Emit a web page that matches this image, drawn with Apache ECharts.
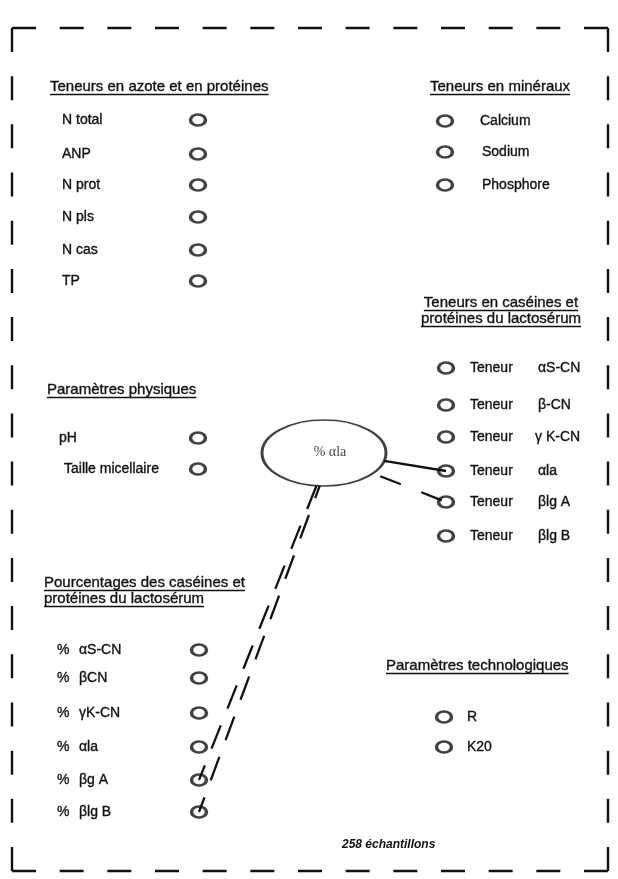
<!DOCTYPE html>
<html>
<head>
<meta charset="utf-8">
<script src="https://cdn.jsdelivr.net/npm/echarts@6/dist/echarts.min.js"></script>
<style>
  html, body { margin: 0; padding: 0; background: #fff; }
  #chart { width: 618px; height: 879px; }
</style>
</head>
<body>
<div id="chart"></div>
<script>
// --- blocs du schéma ---
const azoteLabels = ['N total', 'ANP', 'N prot', 'N pls', 'N cas', 'TP'];
const azoteRowY = [120, 154, 185, 217, 250, 281];

const mineralLabels = ['Calcium', 'Sodium', 'Phosphore'];
const mineralRowY = [121, 152, 185];

const teneurWord = 'Teneur';
const caseinLabels = ['αS-CN', 'β-CN', 'γ K-CN', 'αla', 'βlg A', 'βlg B'];
const caseinRowY = [368, 405, 437, 471, 502, 536];

const physLabels = ['pH', 'Taille micellaire'];
const physRowY = [438, 469];

const pctLabels = ['αS-CN', 'βCN', 'γK-CN', 'αla', 'βg A', 'βlg B'];
const pctRowY = [650, 678, 713, 747, 780, 812];

const technoLabels = ['R', 'K20'];
const technoRowY = [717, 747];

const titles = ['Teneurs en azote et en protéines', 'Teneurs en minéraux',
  'Teneurs en caséines et', 'protéines du lactosérum', 'Paramètres physiques',
  'Pourcentages des caséines et', 'protéines du lactosérum', 'Paramètres technologiques'];
const titleX = [50, 430, 501, 501, 47, 44, 44, 386];
const titleY = [87, 87, 303, 319, 390, 583, 599, 666];

const centerLabel = '% αla';
const centerPos = [324, 453];
const sampleNote = '258 échantillons';

const FONT = '"Liberation Sans", Arial, sans-serif';
const INK = '#111';

// texte : [x, y, texte, type]  type 0 = libellé, 1 = titre, 2 = titre centré, 3 = note
const texts = [];
const circles = [];

azoteLabels.forEach((t, i) => { texts.push([62, azoteRowY[i], t, 0]); circles.push([198, azoteRowY[i]]); });
mineralLabels.forEach((t, i) => { texts.push([i === 0 ? 480 : 482, mineralRowY[i], t, 0]); circles.push([445, mineralRowY[i]]); });
caseinLabels.forEach((t, i) => {
  texts.push([470, caseinRowY[i], teneurWord, 0]);
  texts.push([i === 2 ? 535 : 538, caseinRowY[i], t, 0]);
  circles.push([446, caseinRowY[i]]);
});
physLabels.forEach((t, i) => { texts.push([i === 0 ? 59 : 64, physRowY[i], t, 0]); circles.push([198, physRowY[i]]); });
pctLabels.forEach((t, i) => {
  texts.push([57, pctRowY[i], '%', 0]);
  texts.push([79, pctRowY[i], t, 0]);
  circles.push([199, pctRowY[i]]);
});
technoLabels.forEach((t, i) => { texts.push([467, technoRowY[i], t, 0]); circles.push([444, technoRowY[i]]); });
titles.forEach((t, i) => texts.push([titleX[i], titleY[i], t, (i === 2 || i === 3) ? 2 : 1]));
texts.push([342, 845, sampleNote, 3]);

// liens depuis l'ellipse (angle de départ sur le bord, en degrés, y vers le bas)
const ELL = [62, 33];
function edgeAt(deg) {
  const a = deg * Math.PI / 180;
  return [centerPos[0] + ELL[0] * Math.cos(a), centerPos[1] + ELL[1] * Math.sin(a)];
}
const linkTargets = [[446, caseinRowY[3]], [446, caseinRowY[4]], [199, pctRowY[4]], [199, pctRowY[5]]];
const linkStart = [14, 38, 97, 94];
const linkDash = ['solid', [22, 22], [25, 18], [25, 18]];
const linkOffset = [0, -8, 0, 12];
const links = linkTargets.map((tg, i) => ({
  coords: [edgeAt(linkStart[i]), tg],
  lineStyle: { type: linkDash[i], dashOffset: linkOffset[i] }
}));

const ctx = document.createElement('canvas').getContext('2d');
function textWidth(s, font) { ctx.font = font; return ctx.measureText(s).width; }

// cadre pointillé
function side(x1, y1, x2, y2) {
  const len = Math.hypot(x2 - x1, y2 - y1);
  const n = Math.round((len - 24) / 48);
  const gap = (len - 24 * (n + 1)) / n;
  return {
    type: 'line', silent: true,
    shape: { x1, y1, x2, y2 },
    style: { stroke: INK, lineWidth: 2.4, lineDash: [24, gap] }
  };
}
const B = { l: 12, r: 608, t: 28, b: 871 };

const chart = echarts.init(document.getElementById('chart'));
chart.setOption({
  animation: false,
  backgroundColor: '#fff',
  grid: { left: 0, right: 0, top: 0, bottom: 0 },
  xAxis: { type: 'value', min: 0, max: 618, show: false },
  yAxis: { type: 'value', min: 0, max: 879, inverse: true, show: false },
  graphic: [
    side(B.l, B.t, B.r, B.t),
    side(B.l, B.b, B.r, B.b),
    side(B.l, B.t, B.l, B.b),
    side(B.r, B.t, B.r, B.b)
  ],
  series: [
    {
      type: 'lines',
      coordinateSystem: 'cartesian2d',
      data: links,
      z: 3,
      lineStyle: { color: INK, width: 2.3, opacity: 1 }
    },
    {
      type: 'scatter',
      data: circles,
      symbol: 'circle',
      symbolSize: [15, 11],
      z: 4,
      itemStyle: { color: 'rgba(0,0,0,0)', borderColor: INK, borderWidth: 3 }
    },
    {
      type: 'scatter',
      data: [centerPos],
      symbol: 'circle',
      symbolSize: [ELL[0] * 2, ELL[1] * 2],
      z: 4,
      itemStyle: { color: 'rgba(0,0,0,0)', borderColor: INK, borderWidth: 2.2 },
      label: {
        show: true, position: 'inside', formatter: centerLabel,
        fontFamily: '"Liberation Serif", serif', fontSize: 14, color: INK, offset: [6, -1]
      }
    },
    {
      type: 'custom',
      data: texts.map(t => [t[0], t[1]]),
      z: 5,
      renderItem: function (params, api) {
        const t = texts[params.dataIndex];
        const p = api.coord([t[0], t[1]]);
        const kind = t[3];
        let font = '14px ' + FONT;
        if (kind === 1 || kind === 2) font = '15px ' + FONT;
        if (kind === 3) font = 'italic bold 12px ' + FONT;
        const children = [{
          type: 'text',
          style: {
            text: t[2], x: p[0], y: p[1], font: font, fill: INK,
            stroke: INK, lineWidth: kind === 3 ? 0 : 0.35,
            align: kind === 2 ? 'center' : 'left', verticalAlign: 'middle'
          }
        }];
        if (kind === 1 || kind === 2) {
          const w = textWidth(t[2], font);
          const x0 = kind === 2 ? p[0] - w / 2 : p[0];
          children.push({
            type: 'line',
            shape: { x1: x0, y1: p[1] + 7.5, x2: x0 + w, y2: p[1] + 7.5 },
            style: { stroke: INK, lineWidth: 1.3 }
          });
        }
        return { type: 'group', children: children };
      }
    }
  ]
});
</script>
</body>
</html>
